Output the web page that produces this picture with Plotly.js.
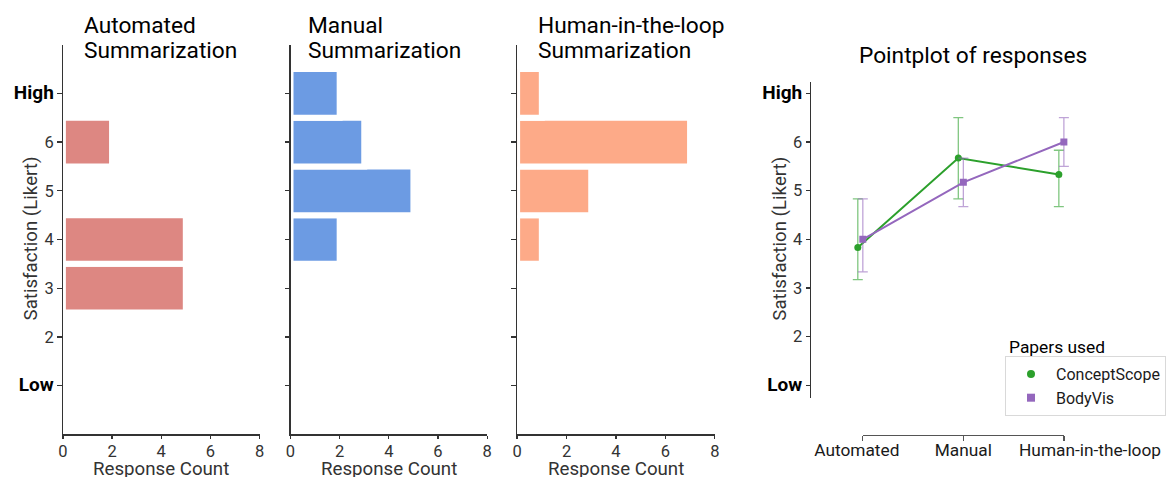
<!DOCTYPE html>
<html><head><meta charset="utf-8">
<script src="https://cdn.plot.ly/plotly-3.0.1.min.js"></script>
<style>html,body{margin:0;padding:0;background:#fff}</style>
</head><body>
<div id="chart" style="width:1166px;height:477px"></div>
<script>
// ---- data ----
const ratings = [1, 2, 3, 4, 5, 6, 7];
const ratingLabels = ['Low', '2', '3', '4', '5', '6', 'High'];
const countTicks = [0, 2, 4, 6, 8];
const autoCounts = [0, 0, 5, 5, 0, 2, 0];
const manualCounts = [0, 0, 0, 2, 5, 3, 2];
const hitlCounts = [0, 0, 0, 1, 3, 7, 1];
const panelTitles = [['Automated', 'Summarization'], ['Manual', 'Summarization'], ['Human-in-the-loop', 'Summarization']];
const groups = ['Automated', 'Manual', 'Human-in-the-loop'];
const csMean = [3.83, 5.67, 5.33];
const csLow = [3.17, 4.83, 4.67];
const csHigh = [4.83, 6.5, 5.83];
const bvMean = [4.0, 5.17, 6.0];
const bvLow = [3.33, 4.67, 5.5];
const bvHigh = [4.83, 5.67, 6.5];

// ---- layout helpers ----
const W = 1166, H = 477;
const px = v => v / W;
const py = v => 1 - v / H;
const FONT = 'Roboto, sans-serif';
const AX = '#333333';
const tickText = ratingLabels.map(l => isNaN(+l) ? '<span style="font-weight:bold;font-size:19px;color:#000">' + l + '</span>' : l);

const barColors = ['#dd8782', '#6c9be3', '#fdaa88'];
const counts = [autoCounts, manualCounts, hitlCounts];
const panelX = [[63, 260], [291, 488], [518, 716]];
const titleX = [82, 307, 537];
const TITLE_FS = 22.7, LABEL_FS = 18.7, TICK_FS = 16.5;

const traces = [];
const layout = {
  width: W, height: H,
  margin: {l: 0, r: 0, t: 0, b: 0},
  paper_bgcolor: '#fff', plot_bgcolor: 'rgba(0,0,0,0)',
  font: {family: FONT, size: 16, color: AX},
  showlegend: true,
  bargap: 0,
  annotations: []
};

counts.forEach((c, i) => {
  const n = i + 1;
  const xa = n === 1 ? 'x' : 'x' + n, ya = n === 1 ? 'y' : 'y' + n;
  traces.push({
    type: 'bar', orientation: 'h', x: c, y: ratings, width: 1,
    xaxis: xa, yaxis: ya, showlegend: false, hoverinfo: 'x+y',
    marker: {color: barColors[i], line: {color: '#ffffff', width: 6}}
  });
  layout['xaxis' + (n === 1 ? '' : n)] = {
    domain: [px(panelX[i][0]), px(panelX[i][1])], range: [0, 8], anchor: ya,
    showgrid: false, zeroline: false, showline: true, linecolor: AX, linewidth: 1.3,
    ticks: 'outside', ticklen: 3.5, tickcolor: AX, tickwidth: 1.3, ticklabelstandoff: -2,
    tickvals: countTicks, tickfont: {size: TICK_FS, color: AX}
  };
  layout['yaxis' + (n === 1 ? '' : n)] = {
    domain: [py(434.4), py(44.6)], range: [0, 8], anchor: xa,
    showgrid: false, zeroline: false, showline: true, linecolor: AX, linewidth: 1.3,
    ticks: 'outside', ticklen: 4.5, tickcolor: AX, tickwidth: 1.3,
    tickvals: ratings, ticktext: tickText, showticklabels: n === 1,
    tickfont: {size: TICK_FS, color: AX}
  };
  panelTitles[i].forEach((line, j) => {
    layout.annotations.push({
      xref: 'paper', yref: 'paper', x: px(titleX[i]), y: py(26 + j * 24.4), xanchor: 'left', yanchor: 'middle',
      align: 'left', showarrow: false, text: line, font: {size: TITLE_FS, color: '#000'}
    });
  });
  layout.annotations.push({
    xref: 'paper', yref: 'paper', x: px((panelX[i][0] + panelX[i][1]) / 2), y: py(468.5),
    xanchor: 'center', yanchor: 'middle', showarrow: false, text: 'Response Count',
    font: {size: LABEL_FS, color: AX}
  });
});

layout.annotations.push({
  xref: 'paper', yref: 'paper', x: px(31.5), y: py(238), textangle: -90,
  xanchor: 'center', yanchor: 'middle', showarrow: false, text: 'Satisfaction (Likert)',
  font: {size: LABEL_FS, color: AX}
});

// ---- point plot ----
const dodge = [-0.05, 0];
const idx = groups.map((g, i) => i);
const labelNudge = [-0.06, 0, 0.26];
const series = [
  {name: 'ConceptScope', mean: csMean, lo: csLow, hi: csHigh, color: '#2ca02c', err: 'rgba(44,160,44,0.6)', symbol: 'circle'},
  {name: 'BodyVis', mean: bvMean, lo: bvLow, hi: bvHigh, color: '#9467bd', err: 'rgba(148,103,189,0.6)', symbol: 'square'}
];
series.forEach((s, k) => {
  traces.push({
    type: 'scatter', mode: 'lines+markers', name: s.name, showlegend: false,
    x: idx.map(i => i + dodge[k]), y: s.mean, xaxis: 'x4', yaxis: 'y4',
    line: {color: s.color, width: 2},
    marker: {color: s.color, size: 7, symbol: s.symbol},
    error_y: {type: 'data', symmetric: false,
      array: s.hi.map((h, i) => h - s.mean[i]), arrayminus: s.lo.map((l, i) => s.mean[i] - l),
      color: s.err, thickness: 1.3, width: 5}
  });
});
series.forEach(s => {
  traces.push({
    type: 'scatter', mode: 'markers', name: s.name, x: [null], y: [null], xaxis: 'x4', yaxis: 'y4',
    marker: {color: s.color, size: 8, symbol: s.symbol}
  });
});
traces.push({type: 'scatter', mode: 'markers', x: [null], y: [null], xaxis: 'x5', yaxis: 'y4', showlegend: false, hoverinfo: 'skip'});

const x4L = 812.7, x4R = 1166, x0px = 864.3, unit = 100.7;
layout.xaxis4 = {
  domain: [px(x4L), px(x4R)], range: [(x4L - x0px) / unit, (x4R - x0px) / unit],
  anchor: 'free', position: py(435), showgrid: false, zeroline: false, showline: false,
  ticks: '', ticklabelstandoff: 3,
  tickvals: idx.map(i => i + labelNudge[i]), ticktext: groups, tickfont: {size: 17.3, color: '#1a1a1a'}
};
layout.xaxis5 = {
  domain: [px(x0px), px(x0px + 2 * unit)], range: [0, 2],
  anchor: 'free', position: py(435), showgrid: false, zeroline: false,
  showline: true, linecolor: '#555', linewidth: 1.3,
  ticks: 'outside', ticklen: 4.5, tickcolor: '#555', tickwidth: 1.3,
  tickvals: idx, showticklabels: false
};
layout.yaxis4 = {
  domain: [py(397.7), py(81.7)], range: [1 - (397.7 - 385.3) / 48.67, 7 + (93.3 - 81.7) / 48.67], anchor: 'x4',
  showgrid: false, zeroline: false, showline: true, linecolor: AX, linewidth: 1.3,
  ticks: 'outside', ticklen: 4.5, tickcolor: AX, tickwidth: 1.3,
  tickvals: ratings, ticktext: tickText, tickfont: {size: TICK_FS, color: AX}
};
layout.annotations.push({
  xref: 'paper', yref: 'paper', x: px(975), y: py(55.4), xanchor: 'center', yanchor: 'middle',
  showarrow: false, text: 'Pointplot of responses', font: {size: TITLE_FS, color: '#000'}
});
layout.annotations.push({
  xref: 'paper', yref: 'paper', x: px(781), y: py(239), textangle: -90,
  xanchor: 'center', yanchor: 'middle', showarrow: false, text: 'Satisfaction (Likert)',
  font: {size: LABEL_FS, color: AX}
});
layout.annotations.push({
  xref: 'paper', yref: 'paper', x: px(1009), y: py(347), xanchor: 'left', yanchor: 'middle',
  showarrow: false, text: 'Papers used', font: {size: 17.4, color: '#000'}
});
layout.legend = {
  x: px(1007), y: py(356), xanchor: 'left', yanchor: 'top',
  bordercolor: '#d9d9d9', borderwidth: 1, bgcolor: '#fff',
  font: {size: 16, color: '#1a1a1a'}, itemwidth: 40, tracegroupgap: 0
};

Plotly.newPlot('chart', traces, layout, {displayModeBar: false, staticPlot: true});
</script>
</body></html>
